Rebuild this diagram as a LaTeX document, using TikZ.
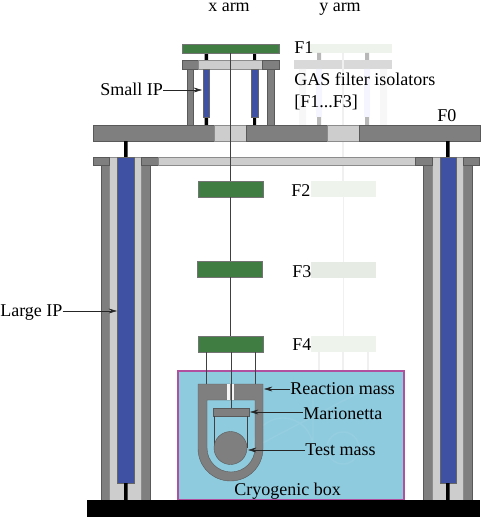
\documentclass[tikz,border=0pt]{standalone}
\usepackage{fontspec}
\setmainfont{Liberation Serif}
\usetikzlibrary{arrows.meta,positioning,calc}
\definecolor{filtgreen}{HTML}{3F7D43}
\definecolor{steelgray}{HTML}{7F7F7F}
\definecolor{palegray}{HTML}{CDCDCD}
\definecolor{ipblue}{HTML}{3F51A3}
\definecolor{cryoblue}{HTML}{8FCBDE}
\definecolor{boxpurple}{HTML}{B0509F}
\definecolor{ghostgreen}{HTML}{EEF3EB}
\definecolor{ghostdark}{HTML}{E6EBE3}

\begin{document}
\begin{tikzpicture}[x=.75pt,y=-.75pt,font=\fontsize{13.5pt}{15pt}\selectfont,
  steel/.style={fill=steelgray, draw=black!65, line width=.3pt},
  pale/.style={fill=palegray, draw=black!45, line width=.3pt},
  ipleg/.style={fill=ipblue, draw=black!60, line width=.3pt},
  stub/.style={fill=black},
  filt/.style={rectangle, fill=filtgreen, draw=black!55, line width=.4pt, inner sep=0pt,
               minimum width=48.75pt, minimum height=12pt},
  ghost/.style={rectangle, fill=#1, inner sep=0pt, minimum width=48.75pt, minimum height=12pt},
  wire/.style={draw=black!75, line width=.6pt},
  fwire/.style={draw=black!6, line width=.8pt},
  lbl/.style={anchor=base west, inner sep=0pt},
  a/.style={-{Stealth[length=2.2mm,width=1.3mm]}, draw=black!85, line width=.4pt}]
\useasboundingbox (0,0) rectangle (480,517);

% y arm, faded
\node[ghost=ghostgreen, minimum width=61.5pt, minimum height=6.75pt] (yF1) at (351,48.5) {};
\node[ghost=black!15, minimum width=73.5pt, minimum height=6.75pt] (yPlate) at (343,64.5) {};
\node[ghost=ghostgreen] (yF2) at (343.5,189) {};
\node[ghost=ghostdark] (yF3) at (343.5,270) {};
\node[ghost=ghostgreen] (yF4) at (343.5,344) {};
\fill[black!3] (299,69) rectangle (306,125) (380,69) rectangle (387,125);
\fill[blue!4] (316,69) rectangle (322,117) (364,69) rectangle (370,117);
\fill[black!28] (317,53) rectangle (321,60) (365,53) rectangle (369,60)
  (317,117) rectangle (321,125) (365,117) rectangle (369,125);
\draw[fwire] (343,53)--(yF2.north -| 343,53) (yF2)--(yF3) (yF3)--(yF4);
\draw[fwire] (319,352)--(319,371) (343,352)--(343,371) (368,352)--(368,371);

% cryogenic box
\fill[cryoblue, draw=boxpurple, line width=.8pt] (178,371) rectangle (404,500);
\draw[cryoblue!95!white, line width=1pt] (343,448) circle (16);
\draw[cryoblue!95!white, line width=1pt] (313,384) -- (313,448) arc (180:0:-30) -- (375,384);

% top stage
\draw[steel] (187,69) rectangle (193,125);
\draw[steel] (267,69) rectangle (274,125);
\fill[stub] (204.5,53) rectangle (208,61) (253,53) rectangle (256,61);
\fill[stub] (204.5,117) rectangle (208,125) (253,117) rectangle (256,125);
\draw[steel] (182,60) rectangle (198,69);
\draw[pale] (198,60) rectangle (262,69);
\draw[steel] (262,60) rectangle (279,69);
\draw[ipleg] (203,69) rectangle (209,117);
\draw[ipleg] (251,69) rectangle (258,117);
\node[filt, minimum width=72.75pt, minimum height=6.75pt] (F1) at (230.5,48.5) {};

% main platform
\draw[steel] (93,125) rectangle (214,141);
\draw[pale] (214,125) rectangle (246,141);
\draw[steel] (246,125) rectangle (327,141);
\draw[pale] (327,125) rectangle (359,141);
\draw[steel] (359,125) rectangle (480,141);

% large inverted pendulums
\fill[stub] (124,141) rectangle (127.5,157) (446,141) rectangle (449.5,157);
\draw[steel] (101,165) rectangle (109,500);
\draw[steel] (141,165) rectangle (150,500);
\draw[steel] (423,165) rectangle (432,500);
\draw[steel] (463,165) rectangle (472,500);
\draw[pale] (109,157) rectangle (141,500);
\draw[pale] (432,157) rectangle (463,500);
\draw[steel] (93,157) rectangle (109,165);
\draw[steel] (141,157) rectangle (158,165);
\draw[pale] (158,157) rectangle (415,165);
\draw[steel] (415,157) rectangle (432,165);
\draw[steel] (463,157) rectangle (479,165);
\draw[ipleg] (117,157) rectangle (134,483);
\draw[ipleg] (440,157) rectangle (456,483);
\fill[stub] (124,483) rectangle (127.5,500) (446,483) rectangle (449.5,500);
\fill[black] (87,500) rectangle (480,517);

% filters and suspension
\node[filt] (F2) at (230.5,189) {};
\node[filt] (F3) at (229.5,269) {};
\node[filt] (F4) at (230.5,344) {};
\draw[wire] (230.5,53)--(F2.north) (F2.south)--(F2.south |- F3.north)
  (F2.south |- F3.south)--(F4.north);
\draw[wire] (206,352)--(206,384) (255,352)--(255,384);

% reaction mass
\draw[steel, even odd rule] (198,384) -- (263,384) -- (263,448.5) arc (0:180:32.5) -- cycle
  (207,400) -- (255,400) -- (255,448) arc (0:180:24) -- cycle;
\fill[white!80!palegray] (227,384) rectangle (234,400);
\fill[steelgray] (229.5,384) rectangle (232,400);
\draw[wire] (231,352)--(231,408);
\draw[steel] (213,408) rectangle (249,416);
\draw[wire, line width=.4pt] (214.5,416)--(214.5,448) (247,416)--(247,448);
\node[circle, fill=steelgray, draw=black!65, line width=.3pt, minimum size=24.75pt, inner sep=0pt] (TM) at (230.5,448) {};

% labels
\node[lbl, anchor=base] (xarm) at (229,12) {x arm};
\node[lbl, anchor=base] (yarm) at (340,12) {y arm};
\node[lbl] (lF1) at (294,54) {F1};
\node[lbl] (lGAS) at (294,85) {GAS filter isolators};
\node[lbl] (lRange) at (294,107) {[F1...F3]};
\node[lbl] (lF0) at (437,121) {F0};
\node[lbl] (lF2) at (291,196) {F2};
\node[lbl] (lF3) at (292,277) {F3};
\node[lbl] (lF4) at (292,350) {F4};
\node[lbl] (lSmall) at (100,95) {Small IP};
\node[lbl] (lLarge) at (0,316) {Large IP};
\node[lbl] (lReact) at (290,394) {Reaction mass};
\node[lbl] (lMario) at (303,419) {Marionetta};
\node[lbl] (lTest) at (305,455) {Test mass};
\node[lbl] (lCryo) at (234,495) {Cryogenic box};

\coordinate (pSmall) at (202,90);
\coordinate (pLarge) at (117,311);
\coordinate (pReact) at (264,389);
\coordinate (pMario) at (250,412);
\coordinate (pTest) at (248,450);
\draw[a] (lSmall.east |- pSmall)--(pSmall);
\draw[a] (lLarge.east |- pLarge)--(pLarge);
\draw[a] (lReact.west |- pReact)--(pReact);
\draw[a] (lMario.west |- pMario)--(pMario);
\draw[a] (lTest.west |- pTest)--(pTest);
\end{tikzpicture}
\end{document}
